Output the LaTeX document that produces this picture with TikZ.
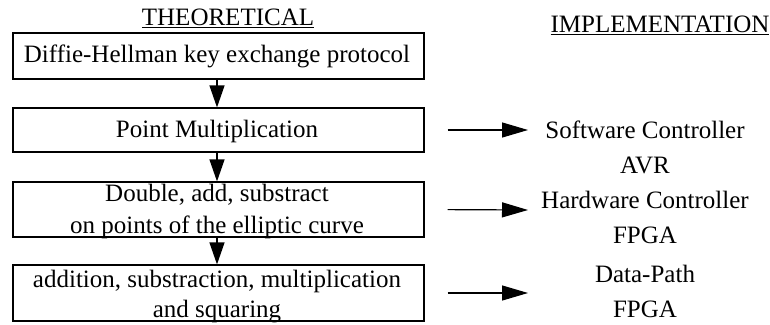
\documentclass[tikz,border=0pt]{standalone}
\usepackage{fontspec}
\setmainfont{Liberation Serif}
\usetikzlibrary{arrows.meta}
\tikzset{
  box/.style={draw, line width=1.2pt, minimum width=411pt, inner sep=0pt},
  lbl/.style={inner sep=0pt, align=center},
  downarrow/.style={line width=1.2pt, -{Triangle[length=22pt,width=15pt]}},
  rarrow/.style={line width=1.2pt, -{Triangle[length=26pt,width=15pt]}}
}
\begin{document}
\begin{tikzpicture}[x=1pt,y=-1pt, font=\fontsize{25}{30}\selectfont]
\useasboundingbox (0,0) rectangle (770,324);
% headers
\node[lbl] (th) at (228,18) {\underline{THEORETICAL}};
\node[lbl] (im) at (660,25) {\underline{IMPLEMENTATION}};
% boxes
\node[box, minimum height=46pt] (b1) at (218.5,56) {};
\node[box, minimum height=44pt] (b2) at (218.5,130) {};
\node[box, minimum height=55pt] (b3) at (218.5,209.5) {};
\node[box, minimum height=56pt] (b4) at (218.5,293) {};
\node[lbl] (b1t) at (217,56) {Diffie-Hellman key exchange protocol};
\node[lbl] (b2t) at (217,131) {Point Multiplication};
\node[lbl] (b3t) at (217,211) {Double, add, substract\\[2pt]on points of the elliptic curve};
\node[lbl] (b4t) at (217,297) {addition, substraction, multiplication\\[0pt]and squaring};
% vertical arrows
\draw[downarrow] (b1.south -| 217,0) -- (b2.north -| 217,0);
\draw[downarrow] (b2.south -| 217,0) -- (b3.north -| 217,0);
\draw[downarrow] (b3.south -| 217,0) -- (b4.north -| 217,0);
% implementation labels
\node[lbl] (sw) at (645,147) {Software Controller\\[5pt]AVR};
\node[lbl] (hw) at (645,217) {Hardware Controller\\[5pt]FPGA};
\node[lbl] (dp) at (645,291) {Data-Path\\[5pt]FPGA};
% horizontal arrows
\coordinate (t1) at (528,130);
\coordinate (t2) at (528,210);
\coordinate (t3) at (528,293);
\draw[rarrow, shorten <=23pt] (b2.east) -- (t1);
\draw[rarrow, shorten <=23pt] (b3.east) -- (t2);
\draw[rarrow, shorten <=23pt] (b4.east) -- (t3);
\end{tikzpicture}
\end{document}
